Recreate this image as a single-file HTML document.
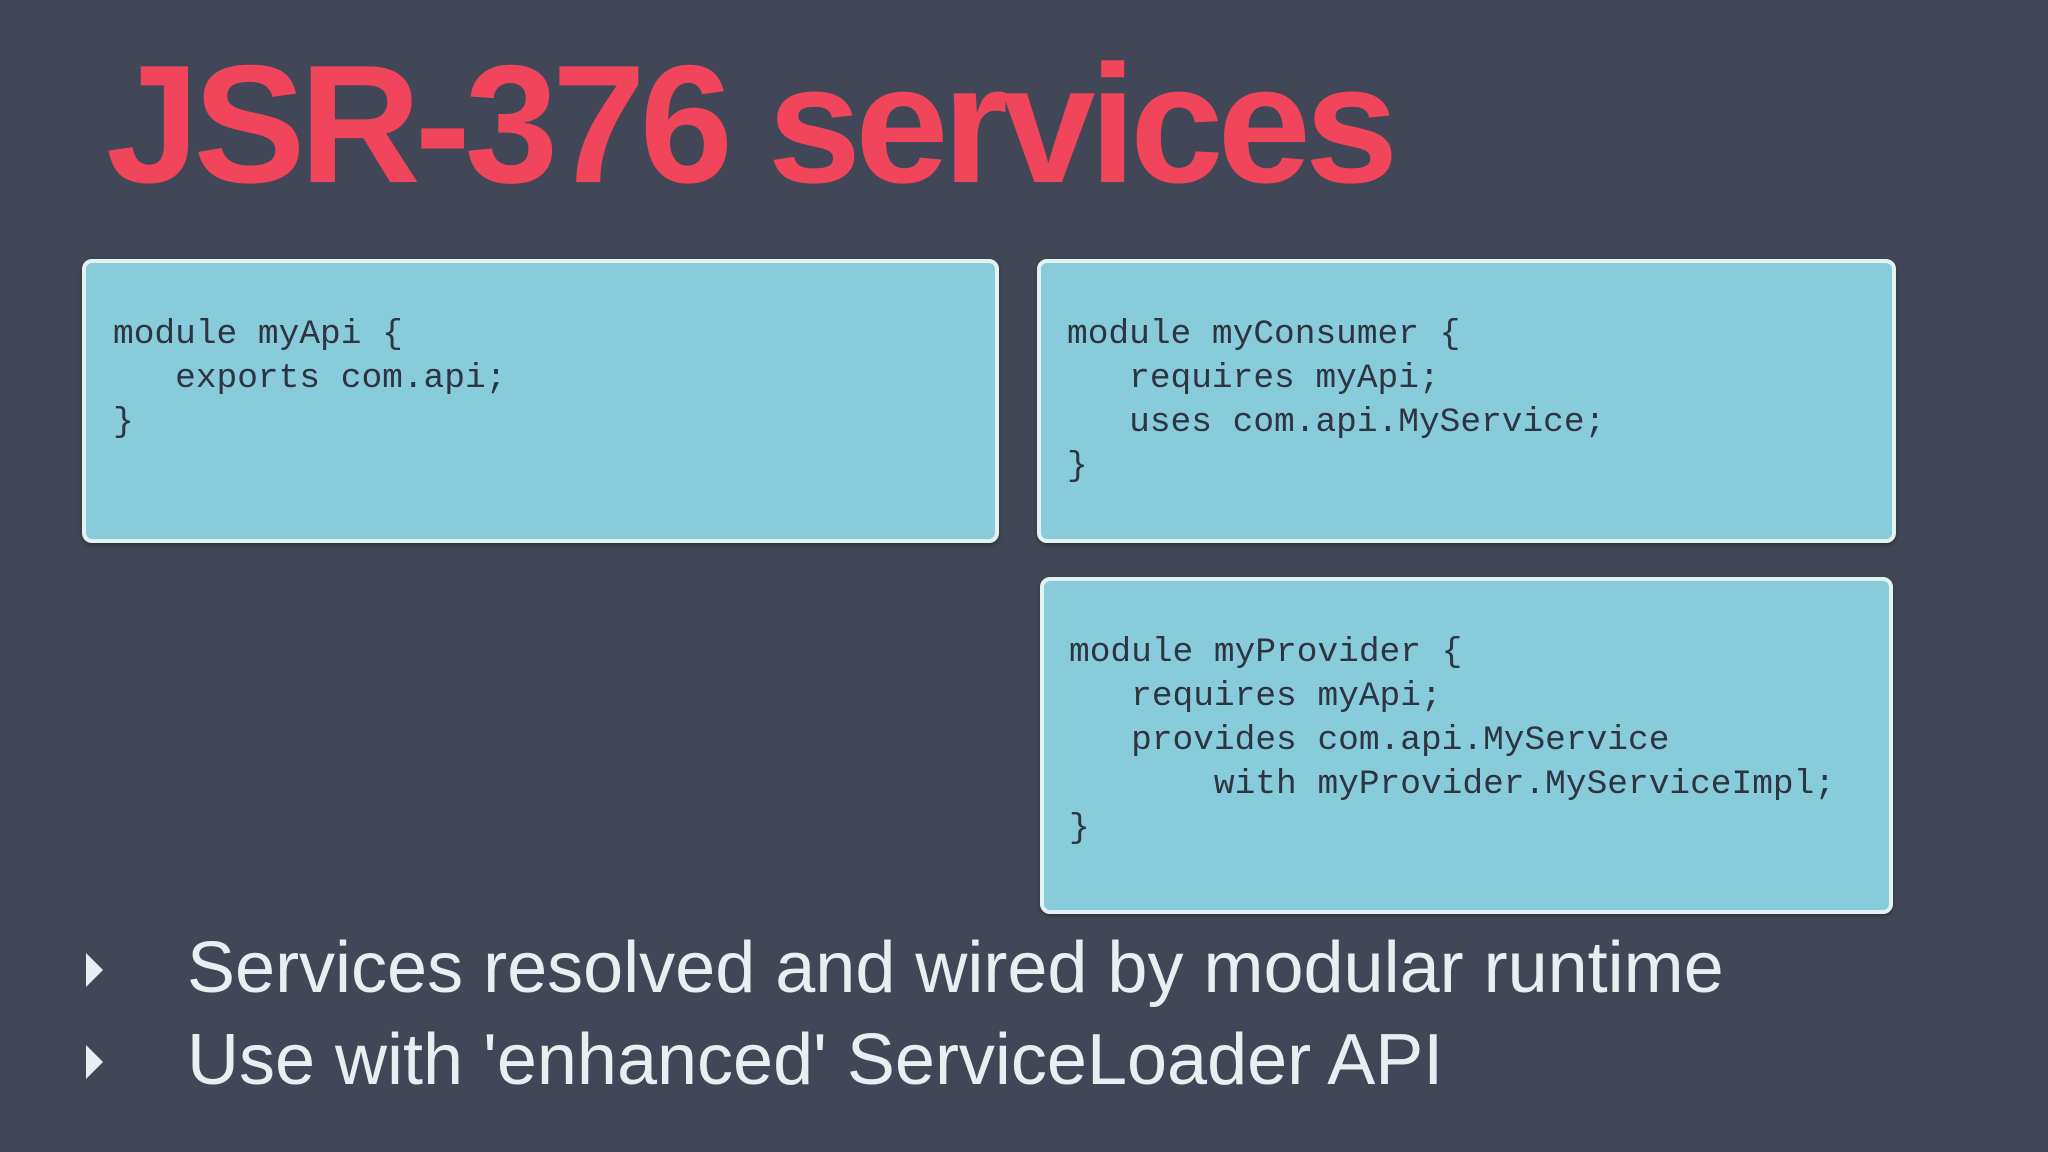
<!DOCTYPE html>
<html><head><style>
body{margin:0;width:2048px;height:1152px;background:#414756;position:relative;overflow:hidden;font-family:"Liberation Sans",sans-serif}
.t{position:absolute;left:106px;top:40px;font-size:168px;font-weight:bold;color:#f0455b;letter-spacing:-6px;white-space:nowrap;line-height:1}
.b{position:absolute;background:#88ccdc;border:4px solid #e4f2f2;border-radius:10px;box-sizing:border-box;box-shadow:0 2px 4px rgba(0,0,0,.3)}
pre{position:absolute;margin:0;font-family:"Liberation Mono",monospace;font-size:34.5px;line-height:44px;color:#2e3440;white-space:pre}
.l{position:absolute;left:187px;font-size:72px;color:#e9eff1;white-space:nowrap;line-height:1}
.tri{position:absolute;left:86px;width:0;height:0;border-top:17px solid transparent;border-bottom:17px solid transparent;border-left:17px solid #e9eff1}
</style></head><body>
<div class="t">JSR-376 services</div>
<div class="b" style="left:82px;top:259px;width:917px;height:284px"></div>
<div class="b" style="left:1037px;top:259px;width:859px;height:284px"></div>
<div class="b" style="left:1040px;top:577px;width:853px;height:337px"></div>
<pre style="left:113px;top:313px">module myApi {
   exports com.api;
}</pre>
<pre style="left:1067px;top:313px">module myConsumer {
   requires myApi;
   uses com.api.MyService;
}</pre>
<pre style="left:1069px;top:631px">module myProvider {
   requires myApi;
   provides com.api.MyService
       with myProvider.MyServiceImpl;
}</pre>
<div class="tri" style="top:953px"></div>
<div class="l" style="top:932px">Services resolved and wired by modular runtime</div>
<div class="tri" style="top:1045px"></div>
<div class="l" style="top:1024px">Use with 'enhanced' ServiceLoader API</div>
</body></html>
